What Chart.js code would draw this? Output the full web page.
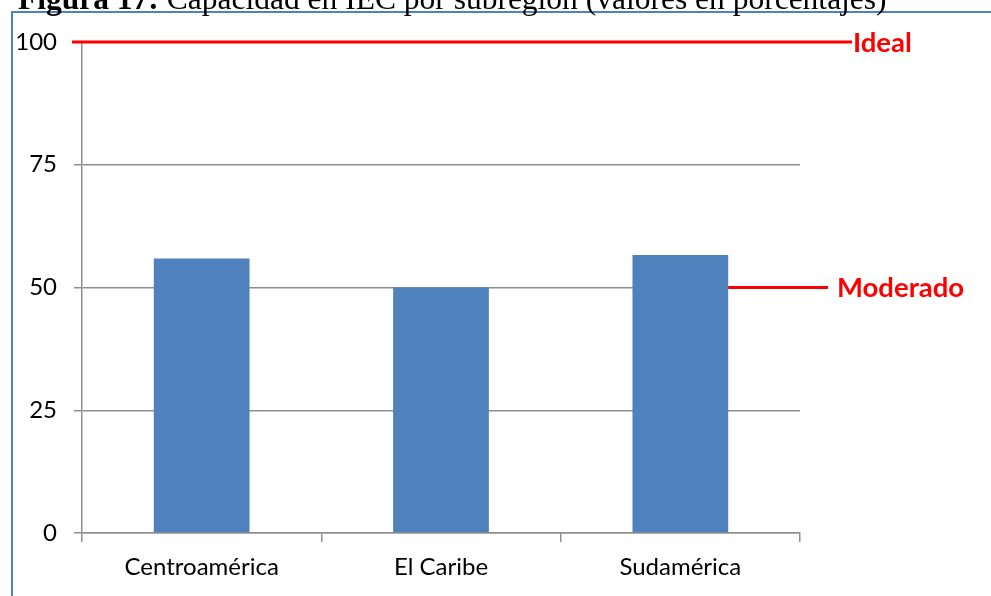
<!DOCTYPE html>
<html>
<head>
<meta charset="utf-8">
<script src="https://cdn.jsdelivr.net/npm/chart.js@4.4.0/dist/chart.umd.min.js"></script>
<style>
  html, body { margin: 0; padding: 0; background: #fff; }
  #wrap { position: relative; width: 991px; height: 596px; overflow: hidden; }
</style>
</head>
<body>
<div id="wrap"><canvas id="chartCap" width="991" height="596"></canvas></div>
<script>
const categories = ['Centroamérica', 'El Caribe', 'Sudamérica']
const capacidad = [55.9, 50, 56.6]
const yTicks = [0, 25, 50, 75, 100]
const idealValue = 100
const moderadoValue = 50
const titleBold = 'Figura 17:'
const titleRest = ' Capacidad en IEC por subregión (valores en porcentajes)'

const redColor = '#ff0000'
const gridColor = '#8f8f8f'
const barColor = '#4f81bd'

// frame + title behind, reference lines on top
const extras = {
    id: 'extras',
    beforeDraw(chart) {
        const c = chart.ctx
        c.save()
        c.strokeStyle = '#4f81bd'
        c.lineWidth = 2
        c.strokeRect(12, 12, 1200, 800)
        c.fillStyle = '#000'
        c.textBaseline = 'alphabetic'
        c.font = 'bold 31.5px "Liberation Serif"'
        c.fillText(titleBold, 18, 9)
        const w = c.measureText(titleBold).width
        c.font = '31.5px "Liberation Serif"'
        c.fillText(titleRest, 18 + w, 9)
        c.restore()
    },
    afterDatasetsDraw(chart) {
        const c = chart.ctx
        const area = chart.chartArea
        const y = chart.scales.y
        const bars = chart.getDatasetMeta(0).data
        const lastBar = bars[bars.length - 1]
        c.save()
        c.strokeStyle = redColor
        c.fillStyle = redColor
        c.lineWidth = 3
        c.textBaseline = 'middle'
        c.font = 'bold 27.5px Lato'

        const yi = y.getPixelForValue(idealValue)
        c.beginPath()
        c.moveTo(area.left - 10, yi)
        c.lineTo(area.right + 52, yi)
        c.stroke()
        c.fillText('Ideal', area.right + 53, yi + 1)

        const ym = y.getPixelForValue(moderadoValue)
        c.beginPath()
        c.moveTo(lastBar.x + lastBar.width / 2, ym)
        c.lineTo(area.right + 28, ym)
        c.stroke()
        c.fillText('Moderado', area.right + 37, ym + 1)
        c.restore()
    }
}

new Chart(document.getElementById('chartCap'), {
    type: 'bar',
    data: {
        labels: categories,
        datasets: [{
            data: capacidad,
            backgroundColor: barColor,
            borderWidth: 0,
            barPercentage: 1,
            categoryPercentage: 0.4
        }]
    },
    options: {
        responsive: false,
        animation: false,
        layout: {
            padding: { left: 0, top: 42, right: 191, bottom: 0 }
        },
        plugins: {
            legend: { display: false },
            tooltip: { enabled: false }
        },
        scales: {
            x: {
                grid: {
                    drawOnChartArea: false,
                    drawTicks: true,
                    tickLength: 9,
                    color: gridColor,
                    lineWidth: 1.5
                },
                border: { color: gridColor, width: 1.5 },
                ticks: {
                    color: '#000',
                    padding: 11,
                    font: { family: 'Lato', size: 24 }
                },
                afterFit(scale) { scale.height = 63 }
            },
            y: {
                min: 0,
                max: 100,
                afterBuildTicks(scale) {
                    scale.ticks = yTicks.map(v => ({ value: v }))
                },
                grid: {
                    color: gridColor,
                    lineWidth: 1.5,
                    tickLength: 8
                },
                border: { color: gridColor, width: 1.5 },
                ticks: {
                    color: '#000',
                    padding: 17,
                    font: { family: 'Lato', size: 24 }
                },
                afterFit(scale) { scale.width = 82 }
            }
        }
    },
    plugins: [extras]
})
</script>
</body>
</html>
